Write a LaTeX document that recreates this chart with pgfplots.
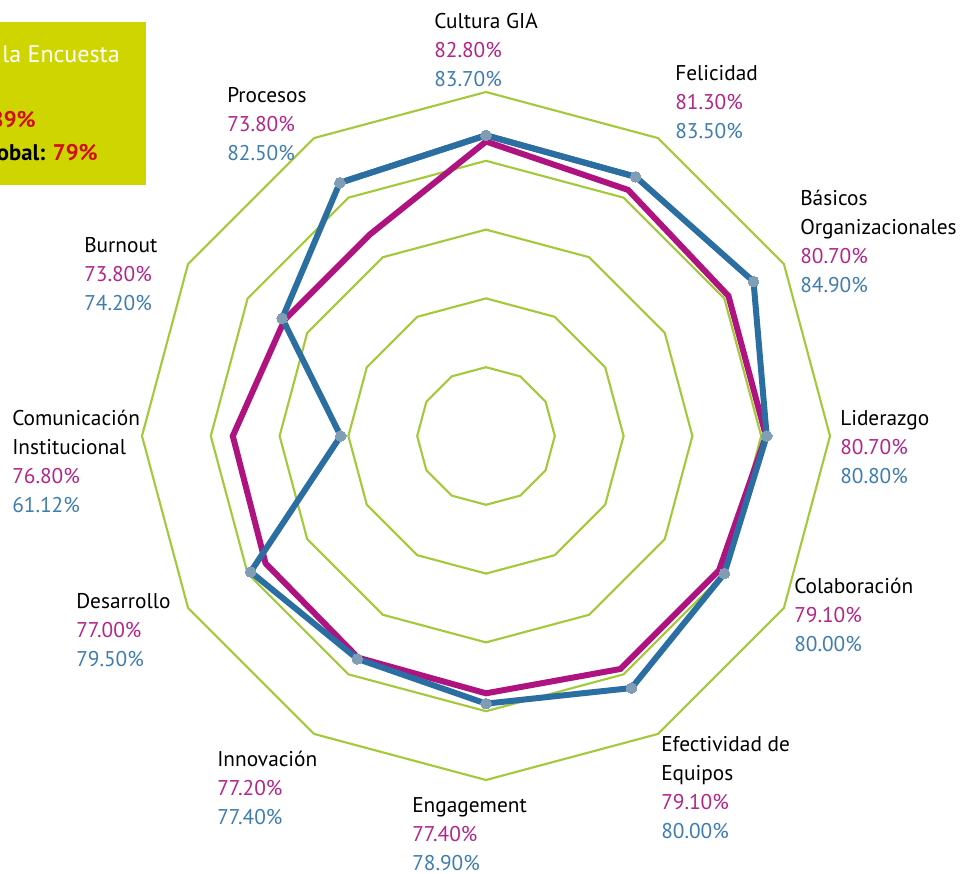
\documentclass[border=0pt]{standalone}
\usepackage{fontspec}
\setmainfont{PT Sans}
\usepackage{pgfplots}
\pgfplotsset{compat=1.18}
\usepgfplotslibrary{polar}
\usetikzlibrary{calc}

\definecolor{ringGreen}{HTML}{A4C93B}
\definecolor{linePink}{HTML}{AE1380}
\definecolor{lineBlue}{HTML}{2B6EA1}
\definecolor{markBlue}{HTML}{7F9EB6}
\definecolor{txtPink}{HTML}{B4258A}
\definecolor{txtBlue}{HTML}{3F7DAE}
\definecolor{boxGreen}{HTML}{CED500}
\definecolor{txtRed}{HTML}{D0101A}

\begin{document}
\begin{tikzpicture}
\begin{polaraxis}[
    hide axis,
    scale only axis,
    width=516pt, height=516pt,
    xmin=0, xmax=360,
    ymin=0, ymax=50,
    clip=false,
    % values run from 40 (centre) to 90 (outer ring)
    y filter/.expression={y-40},
    ring/.style={draw=ringGreen, line width=1.6pt, mark=none},
]
  % grid rings at 50, 60, 70, 80, 90
  \addplot[ring] coordinates {(0,50)(30,50)(60,50)(90,50)(120,50)(150,50)(180,50)(210,50)(240,50)(270,50)(300,50)(330,50)(360,50)(390,50)};
  \addplot[ring] coordinates {(0,60)(30,60)(60,60)(90,60)(120,60)(150,60)(180,60)(210,60)(240,60)(270,60)(300,60)(330,60)(360,60)(390,60)};
  \addplot[ring] coordinates {(0,70)(30,70)(60,70)(90,70)(120,70)(150,70)(180,70)(210,70)(240,70)(270,70)(300,70)(330,70)(360,70)(390,70)};
  \addplot[ring] coordinates {(0,80)(30,80)(60,80)(90,80)(120,80)(150,80)(180,80)(210,80)(240,80)(270,80)(300,80)(330,80)(360,80)(390,80)};
  \addplot[ring] coordinates {(0,90)(30,90)(60,90)(90,90)(120,90)(150,90)(180,90)(210,90)(240,90)(270,90)(300,90)(330,90)(360,90)(390,90)};

  % series 1 (pink)
  \addplot[draw=linePink, line width=4.5pt, mark=none] coordinates {
    (90,82.8) (60,81.3) (30,80.7) (0,80.7) (-30,79.1) (-60,79.1)
    (-90,77.4) (-120,77.2) (-150,77.0) (-180,76.8) (-210,73.8) (-240,73.8)
    (-270,82.8) (-300,81.3)};

  % series 2 (blue)
  \addplot[draw=lineBlue, line width=4.5pt, mark=*,
    mark options={draw=markBlue, fill=markBlue, line width=0pt}, mark size=4pt]
    coordinates {
    (90,83.7) (60,83.5) (30,84.9) (0,80.8) (-30,80.0) (-60,82.3)
    (-90,78.9) (-120,77.4) (-150,79.5) (-180,61.12) (-210,74.2) (-240,82.5)
    (-270,83.7)};
  \addplot[draw=lineBlue, line width=4.5pt, mark=none] coordinates {(-240,82.5) (-270,83.7) (-300,83.5)};

  \coordinate (O) at (axis cs:0,0);
\end{polaraxis}

\pgfresetboundingbox
\begin{scope}[shift={($(O)+(-364.5pt,327pt)$)}, x=0.75pt, y=-0.75pt]
  \useasboundingbox (0,0) rectangle (968,874);

  % summary box, cut off on the left
  \fill[boxGreen] (-300,22) rectangle (146,185);
  \begin{scope}[every node/.style={inner sep=0pt}]
    \node[anchor=base east, text=white, font=\fontsize{18}{20}\selectfont] at (120,63) {Resultados de la Encuesta};
    \node[anchor=base east, font=\fontsize{17}{20}\selectfont\bfseries] at (36,128) {Participación: \textcolor{txtRed}{89\%}};
    \node[anchor=base east, font=\fontsize{17}{20}\selectfont\bfseries] at (98,161) {Resultado Global: \textcolor{txtRed}{79\%}};
  \end{scope}

  \begin{scope}[every node/.style={inner sep=0pt, anchor=north west, align=left,
      font=\fontsize{16}{21.75}\selectfont}]
    \node at (434,13) {Cultura GIA\\\textcolor{txtPink}{82.80\%}\\\textcolor{txtBlue}{83.70\%}};
    \node at (675,65) {Felicidad\\\textcolor{txtPink}{81.30\%}\\\textcolor{txtBlue}{83.50\%}};
    \node at (800,190) {Básicos\\Organizacionales\\\textcolor{txtPink}{80.70\%}\\\textcolor{txtBlue}{84.90\%}};
    \node at (840,410) {Liderazgo\\\textcolor{txtPink}{80.70\%}\\\textcolor{txtBlue}{80.80\%}};
    \node at (794,578) {Colaboración\\\textcolor{txtPink}{79.10\%}\\\textcolor{txtBlue}{80.00\%}};
    \node at (661,736) {Efectividad de\\Equipos\\\textcolor{txtPink}{79.10\%}\\\textcolor{txtBlue}{80.00\%}};
    \node at (412,797) {Engagement\\\textcolor{txtPink}{77.40\%}\\\textcolor{txtBlue}{78.90\%}};
    \node at (217,751) {Innovación\\\textcolor{txtPink}{77.20\%}\\\textcolor{txtBlue}{77.40\%}};
    \node at (76,593) {Desarrollo\\\textcolor{txtPink}{77.00\%}\\\textcolor{txtBlue}{79.50\%}};
    \node at (12,410) {Comunicación\\Institucional\\\textcolor{txtPink}{76.80\%}\\\textcolor{txtBlue}{61.12\%}};
    \node at (84,237) {Burnout\\\textcolor{txtPink}{73.80\%}\\\textcolor{txtBlue}{74.20\%}};
    \node at (227,87) {Procesos\\\textcolor{txtPink}{73.80\%}\\\textcolor{txtBlue}{82.50\%}};
  \end{scope}
\end{scope}
\end{tikzpicture}
\end{document}
